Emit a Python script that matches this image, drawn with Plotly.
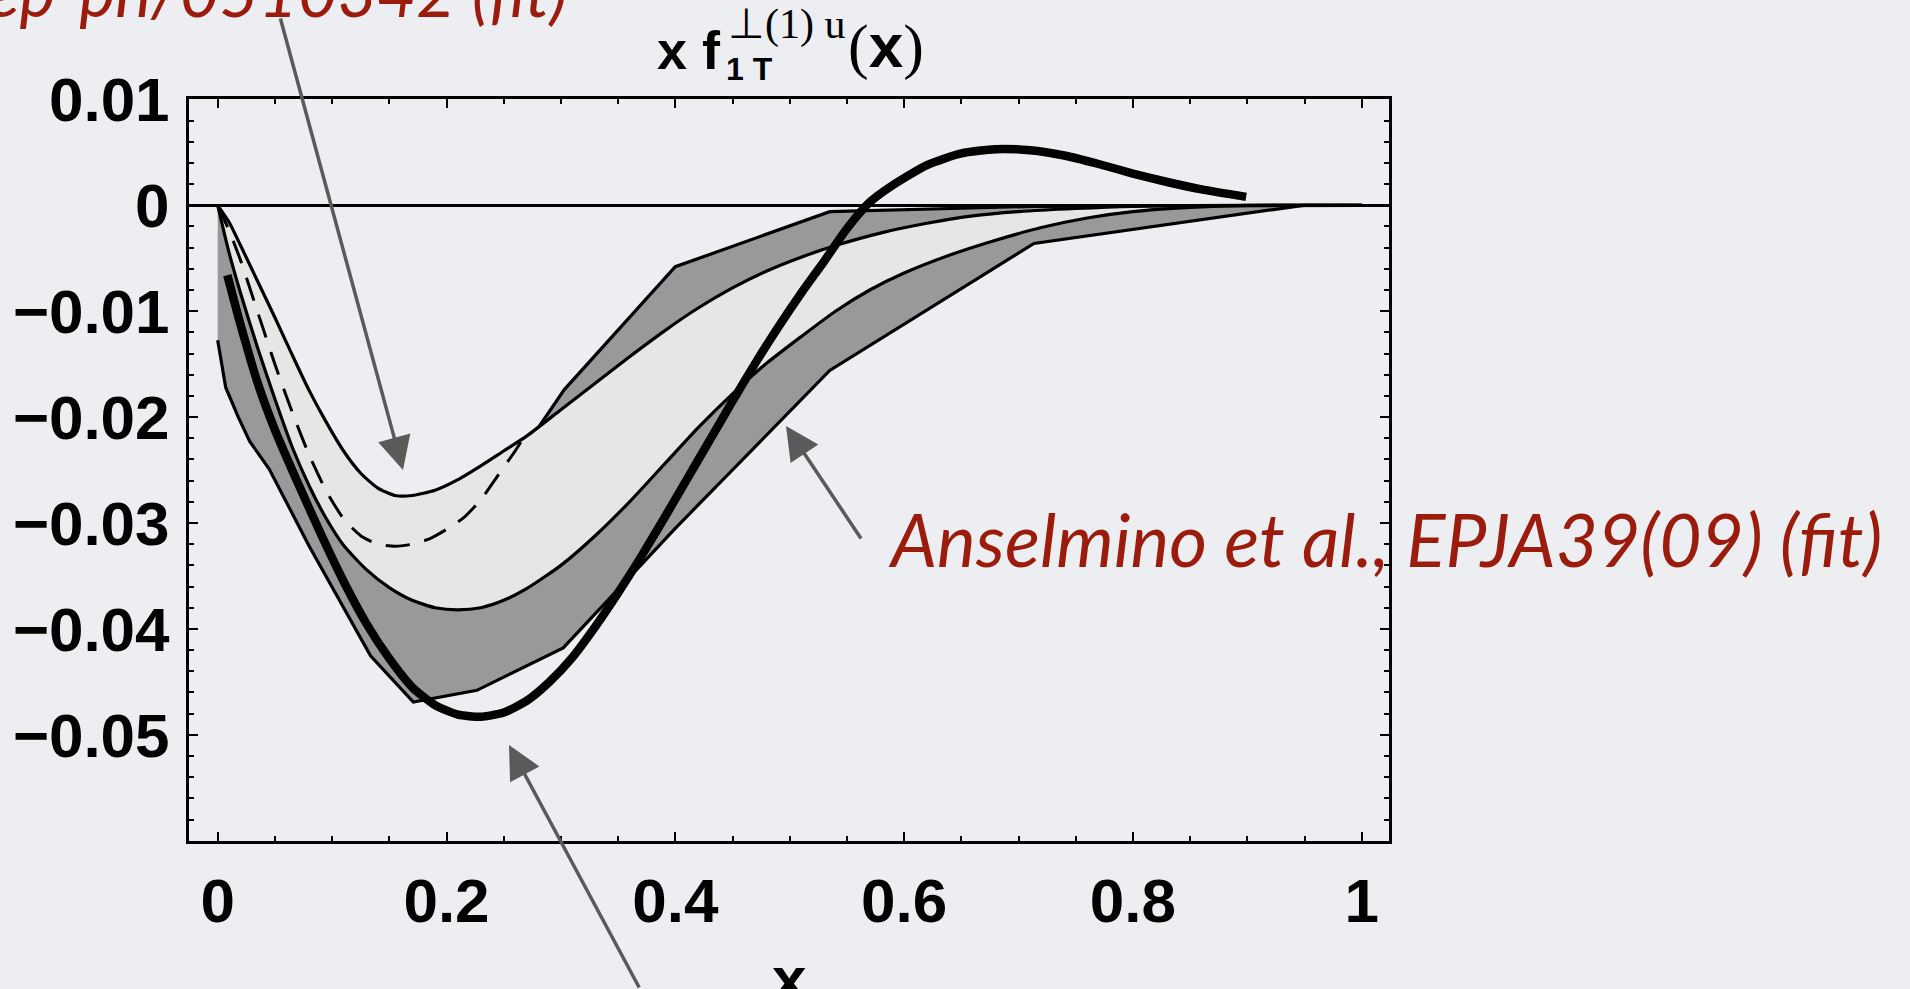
import plotly.graph_objects as go

# ---- data -------------------------------------------------------------
# Anselmino et al. 2009 fit band (piecewise-linear edges)
band_a_upper_x = [0, 0.042, 0.075, 0.1, 0.1336, 0.171, 0.2266, 0.303, 0.40, 0.535, 0.7135, 0.949, 1.0]
band_a_upper_y = [0, -0.012, -0.020, -0.025, -0.030, -0.032, -0.0295, -0.0174, -0.0058, -0.0006, -0.0001, 0, 0]
band_a_lower_x = [0, 0.007, 0.018, 0.028, 0.045, 0.08, 0.1336, 0.171, 0.2266, 0.302, 0.40, 0.535, 0.7135,
                  0.949, 1.0]
band_a_lower_y = [-0.01275, -0.0172, -0.0200, -0.0223, -0.0249, -0.0322, -0.04255, -0.0469, -0.0458, -0.0418,
                  -0.0305, -0.0156, -0.0036, 0, 0]

# hep-ph/0510342 fit band (smooth edges)
band_b_upper_x = [0, 0.01, 0.02, 0.035, 0.05, 0.065, 0.08, 0.095, 0.11, 0.125, 0.14, 0.155, 0.17, 0.19, 0.21,
                  0.23, 0.25, 0.27, 0.30, 0.33, 0.36, 0.39, 0.42, 0.45, 0.48, 0.51, 0.54, 0.58, 0.62, 0.66,
                  0.70, 0.75, 0.80, 0.90, 1.0]
band_b_upper_y = [0, -0.0016, -0.0038, -0.0072, -0.0106, -0.0141, -0.0175, -0.0205, -0.0232, -0.0253, -0.0267,
                  -0.0274, -0.0274, -0.0269, -0.0259, -0.0246, -0.0232, -0.0218, -0.0193, -0.0168, -0.0143,
                  -0.0119, -0.0097, -0.0078, -0.0062, -0.0049, -0.0038, -0.0026, -0.0017, -0.0010, -0.0006,
                  -0.0003, -0.0001, 0, 0]
band_b_lower_x = [0, 0.01, 0.02, 0.035, 0.05, 0.065, 0.08, 0.095, 0.11, 0.13, 0.15, 0.17, 0.19, 0.21, 0.23,
                  0.25, 0.27, 0.30, 0.33, 0.36, 0.39, 0.42, 0.45, 0.48, 0.51, 0.54, 0.57, 0.60, 0.64, 0.68,
                  0.72, 0.76, 0.80, 0.85, 0.90, 1.0]
band_b_lower_y = [0, -0.0045, -0.0083, -0.0135, -0.0183, -0.0228, -0.0265, -0.0296, -0.0321, -0.0344, -0.0361,
                  -0.0373, -0.0380, -0.0382, -0.0380, -0.0373, -0.0362, -0.0340, -0.0312, -0.0280, -0.0245,
                  -0.0210, -0.0178, -0.0149, -0.0124, -0.0100, -0.0080, -0.0064, -0.0047, -0.0033, -0.0021,
                  -0.0012, -0.0006, -0.0002, 0, 0]

# dashed curve
dashed_x = [0, 0.01, 0.02, 0.035, 0.05, 0.065, 0.08, 0.095, 0.11, 0.125, 0.14, 0.155, 0.17, 0.185, 0.20,
            0.215, 0.23, 0.245, 0.26, 0.27]
dashed_y = [0, -0.0024, -0.0052, -0.0101, -0.0150, -0.0195, -0.0236, -0.0270, -0.0296, -0.0312, -0.0320,
            -0.0322, -0.0320, -0.0315, -0.0306, -0.0295, -0.0278, -0.0255, -0.0232, -0.0215]

# model curve (thick)
model_x = [0.0084, 0.02, 0.035, 0.05, 0.07, 0.09, 0.11, 0.13, 0.15, 0.17, 0.19, 0.21, 0.23, 0.25, 0.27, 0.29,
           0.31, 0.33, 0.35, 0.37, 0.39, 0.41, 0.43, 0.45, 0.47, 0.49, 0.51, 0.53, 0.55, 0.57, 0.59, 0.62,
           0.65, 0.68, 0.71, 0.74, 0.77, 0.80, 0.83, 0.86, 0.899]
model_y = [-0.0066, -0.0113, -0.0168, -0.0212, -0.0262, -0.0310, -0.0355, -0.0395, -0.0428, -0.0455, -0.0472,
           -0.0481, -0.0483, -0.0479, -0.0468, -0.0450, -0.0427, -0.0398, -0.0366, -0.0332, -0.0296, -0.0259,
           -0.0222, -0.0185, -0.0149, -0.0115, -0.0083, -0.0053, -0.0022, 0.0003, 0.0019, 0.0038, 0.0049,
           0.0053, 0.0052, 0.0047, 0.0039, 0.0030, 0.0022, 0.0015, 0.0008]

x_ticks = [0, 0.2, 0.4, 0.6, 0.8, 1]
x_tick_text = ["0", "0.2", "0.4", "0.6", "0.8", "1"]
y_ticks = [0.01, 0, -0.01, -0.02, -0.03, -0.04, -0.05]
y_tick_text = ["0.01", "0", "\u22120.01", "\u22120.02", "\u22120.03", "\u22120.04", "\u22120.05"]

# ---- layout geometry ---------------------------------------------------
W, H = 1910, 989
L, R, T, B = 189, 521, 99, 148
PW, PH = W - L - R, H - T - B


def px(xp):
    return (xp - L) / PW


def py(yp):
    return (H - B - yp) / PH


BG = "#EDEEF1"
RED = "#9B1C0C"
ARROW = "#5A5A5A"
SANS = "Liberation Sans, Arial, sans-serif"
SERIF = "Liberation Serif, Times New Roman, serif"
ITAL = "Lato, Open Sans, sans-serif"

fig = go.Figure()

fig.add_trace(go.Scatter(x=band_a_lower_x, y=band_a_lower_y, mode="lines",
                         line=dict(color="black", width=3.2), hoverinfo="skip"))
fig.add_trace(go.Scatter(x=band_a_upper_x, y=band_a_upper_y, mode="lines", fill="tonexty",
                         fillcolor="#999999", line=dict(color="black", width=3.2), hoverinfo="skip"))
fig.add_trace(go.Scatter(x=band_b_lower_x, y=band_b_lower_y, mode="lines",
                         line=dict(color="black", width=3.2, shape="spline", smoothing=0.6), hoverinfo="skip"))
fig.add_trace(go.Scatter(x=band_b_upper_x, y=band_b_upper_y, mode="lines", fill="tonexty",
                         fillcolor="#E6E6E7",
                         line=dict(color="black", width=3.2, shape="spline", smoothing=0.6), hoverinfo="skip"))
fig.add_trace(go.Scatter(x=dashed_x, y=dashed_y, mode="lines",
                         line=dict(color="black", width=3, dash="24px,15px", shape="spline", smoothing=0.6),
                         hoverinfo="skip"))
fig.add_trace(go.Scatter(x=model_x, y=model_y, mode="lines",
                         line=dict(color="black", width=8.5, shape="spline", smoothing=0.6), hoverinfo="skip"))

axis_common = dict(
    showgrid=False, showline=True, linecolor="black", linewidth=3, mirror="allticks",
    ticks="inside", ticklen=9, tickwidth=2, tickcolor="black",
    tickfont=dict(family=SANS, size=62, color="black", weight="bold"),
)

fig.update_xaxes(range=[(L - 217.7) / 1144, (L + PW - 217.7) / 1144], tickvals=x_ticks, ticktext=x_tick_text,
                 zeroline=False, ticklabelstandoff=4,
                 minor=dict(dtick=0.05, ticklen=5, tickwidth=1.5, tickcolor="black", ticks="inside"),
                 **axis_common)
fig.update_yaxes(range=[(205.3 - (T + PH)) / 10590, (205.3 - T) / 10590], tickvals=y_ticks,
                 ticktext=y_tick_text, zeroline=True, zerolinecolor="black", zerolinewidth=2.5,
                 ticklabelstandoff=4,
                 minor=dict(dtick=0.002, ticklen=5, tickwidth=1.5, tickcolor="black", ticks="inside"),
                 **axis_common)

annotations = [
    # title pieces
    dict(x=px(723), y=py(50), text="<b>x f</b>", xanchor="right", yanchor="middle",
         font=dict(family=SANS, size=54, color="black")),
    dict(x=px(724), y=py(69), text="<b>1 T</b>", xanchor="left", yanchor="middle",
         font=dict(family=SANS, size=32, color="black")),
    dict(x=px(726), y=py(24), text="\u22a5(1) u", xanchor="left", yanchor="middle",
         font=dict(family=SERIF, size=42, color="black")),
    dict(x=px(846), y=py(46), text="(<b><span style='font-family:Liberation Sans'>x</span></b>)",
         xanchor="left", yanchor="middle", font=dict(family=SERIF, size=62, color="black")),
    # x axis title
    dict(x=px(789), y=py(978), text="<b>x</b>", xanchor="center", yanchor="middle",
         font=dict(family=SANS, size=62, color="black")),
    # red labels
    dict(x=px(886), y=py(539), text="<i>Anselmino et al., EPJA39(09) (fit)</i>", xanchor="left",
         yanchor="middle", font=dict(family=ITAL, size=73, color=RED)),
    dict(x=px(569), y=py(-9), text="<i>hep-ph/0510342 (fit)</i>", xanchor="right",
         yanchor="middle", font=dict(family=ITAL, size=68, color=RED)),
    # arrows
    dict(x=px(403), y=py(470), ax=-123, ay=-453, text="", showarrow=True, arrowhead=2, arrowsize=1.9,
         arrowwidth=3.5, arrowcolor=ARROW, standoff=0),
    dict(x=px(786), y=py(426), ax=76, ay=114, text="", showarrow=True, arrowhead=2, arrowsize=1.9,
         arrowwidth=3.5, arrowcolor=ARROW, standoff=0),
    dict(x=px(509), y=py(745), ax=131, ay=285, text="", showarrow=True, arrowhead=2, arrowsize=1.9,
         arrowwidth=3.5, arrowcolor=ARROW, standoff=0),
]
for a in annotations:
    a.setdefault("xref", "paper")
    a.setdefault("yref", "paper")
    a.setdefault("showarrow", False)

fig.update_layout(
    width=W, height=H, margin=dict(l=L, r=R, t=T, b=B, pad=0),
    paper_bgcolor=BG, plot_bgcolor=BG, showlegend=False,
    annotations=annotations,
)

fig.write_html("out.html", config={"displayModeBar": False})
